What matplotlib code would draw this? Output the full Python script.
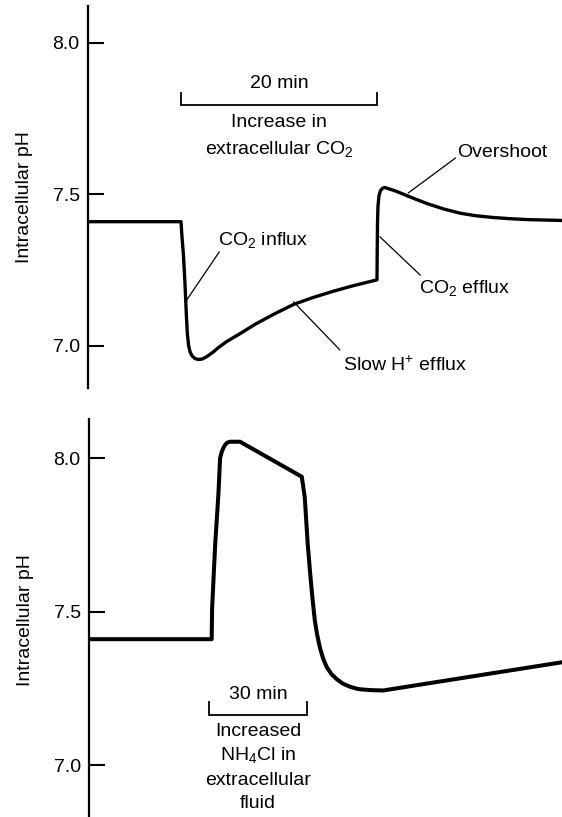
import matplotlib
matplotlib.use("Agg")
import matplotlib.pyplot as plt

plt.rcParams["font.family"] = ["Liberation Sans", "DejaVu Sans"]
plt.rcParams["mathtext.fontset"] = "custom"
plt.rcParams["mathtext.rm"] = "Liberation Sans"
plt.rcParams["mathtext.it"] = "Liberation Sans:italic"
plt.rcParams["mathtext.bf"] = "Liberation Sans:bold"

# ---- Panel A: intracellular pH during a 20 min rise in extracellular CO2 ----
co2_time = [-9.5, 0.0, 0.1, 0.25, 0.4, 0.55, 0.65, 0.78, 0.95, 1.15, 1.45,
            1.8, 2.2, 2.7, 3.3, 3.8, 4.6, 6.0, 7.6, 9.5, 11.5, 13.5, 15.5,
            17.5, 20.0,
            20.02, 20.05, 20.1, 20.2, 20.35, 20.55, 20.8, 22.0, 23.5, 25.1,
            26.8, 28.5, 30.0, 31.8, 33.5, 35.3, 38.9]
co2_ph = [7.41, 7.41, 7.36, 7.30, 7.21, 7.10, 7.04, 7.00, 6.978, 6.966, 6.958,
          6.955, 6.957, 6.966, 6.98, 6.994, 7.013, 7.04, 7.072, 7.105, 7.137, 7.16, 7.18,
          7.198, 7.218,
          7.30, 7.40, 7.46, 7.495, 7.512, 7.52, 7.523, 7.51, 7.49, 7.47,
          7.452, 7.438, 7.43, 7.424, 7.42, 7.417, 7.414]

# ---- Panel B: intracellular pH during a 30 min NH4Cl exposure ----
nh4_time = [-36.8, 0.82, 0.95, 1.9, 2.9, 3.4, 3.9, 4.4, 5.0, 5.6, 6.4, 9.5,
            28.4, 29.3, 30.2, 31.0, 31.7, 32.4, 33.1, 34.0, 35.0, 36.1, 37.5,
            39.2, 41.0, 43.2, 45.5, 47.1, 50.0, 53.3, 108.1]
nh4_ph = [7.41, 7.41, 7.51, 7.72, 7.886, 8.0, 8.02, 8.033, 8.044, 8.05, 8.053, 8.053,
          7.939, 7.873, 7.723, 7.62, 7.54, 7.47, 7.425, 7.38, 7.345, 7.318, 7.296,
          7.279, 7.265, 7.255, 7.248, 7.246, 7.244, 7.243, 7.335]

ph_ticks = [7.0, 7.5, 8.0]
ph_tick_labels = ["7.0", "7.5", "8.0"]

W, H = 562, 817
fig = plt.figure(figsize=(W / 100, H / 100), dpi=100)
fig.patch.set_facecolor("white")

ax1 = fig.add_axes([88 / W, 1 - 388 / H, (W - 88) / W, 382 / H])
ax2 = fig.add_axes([89 / W, 0.0, (W - 89) / W, 398 / H])

FS = 14


def style_axis(ax, ylim, xlim, label_y):
    ax.set_xlim(*xlim)
    ax.set_ylim(*ylim)
    for side in ("top", "right", "bottom"):
        ax.spines[side].set_visible(False)
    ax.spines["left"].set_linewidth(1.6)
    ax.set_xticks([])
    ax.set_yticks(ph_ticks)
    ax.set_yticklabels(ph_tick_labels)
    ax.tick_params(axis="y", direction="in", length=11.5, width=1.5,
                   pad=6, labelsize=FS)
    ax.set_ylabel("Intracellular pH", fontsize=FS)
    ax.yaxis.label.set_verticalalignment("center")
    ax.yaxis.set_label_coords(-0.135, label_y)
    ax.patch.set_alpha(0)


style_axis(ax1, (6.861, 8.122), (-9.49, 38.88), 0.5)
style_axis(ax2, (6.831, 8.127), (-36.73, 108.05), 0.495)

ax1.plot(co2_time, co2_ph, color="black", lw=2.4, solid_capstyle="butt",
         solid_joinstyle="round", clip_on=False)
ax2.plot(nh4_time, nh4_ph, color="black", lw=2.9, solid_capstyle="butt",
         solid_joinstyle="round", clip_on=False)


def scale_bar(ax, t0, t1, y_bar, y_tick):
    ax.plot([t0, t0, t1, t1], [y_tick, y_bar, y_bar, y_tick],
            color="black", lw=1.3, solid_joinstyle="miter")


def leader(ax, start, end):
    ax.plot([start[0], end[0]], [start[1], end[1]], color="black", lw=0.9)


# Panel A annotations
scale_bar(ax1, 0, 20, 7.795, 7.835)
ax1.text(10, 7.865, "20 min", fontsize=FS, ha="center", va="center")
ax1.text(10, 7.736, "Increase in", fontsize=FS, ha="center", va="center")
ax1.text(10, 7.65, r"extracellular CO$_\mathrm{2}$", fontsize=FS,
         ha="center", va="center")

ax1.text(8.4, 7.35, r"CO$_\mathrm{2}$ influx", fontsize=FS, ha="center", va="center")
leader(ax1, (3.9, 7.31), (0.55, 7.15))

ax1.text(22.9, 6.937, r"Slow H$^\mathrm{+}$ efflux", fontsize=FS, ha="center", va="center")
leader(ax1, (16.2, 6.987), (11.5, 7.145))

ax1.text(32.8, 7.64, "Overshoot", fontsize=FS, ha="center", va="center")
leader(ax1, (28.0, 7.62), (23.2, 7.505))

ax1.text(28.9, 7.19, r"CO$_\mathrm{2}$ efflux", fontsize=FS, ha="center", va="center")
leader(ax1, (24.4, 7.234), (20.3, 7.36))

# Panel B annotations
scale_bar(ax2, 0, 30, 7.163, 7.205)
ax2.text(15, 7.231, "30 min", fontsize=FS, ha="center", va="center")
ax2.text(15, 7.108, "Increased", fontsize=FS, ha="center", va="center")
ax2.text(15, 7.033, r"NH$_\mathrm{4}$Cl in", fontsize=FS, ha="center", va="center")
ax2.text(15, 6.951, "extracellular", fontsize=FS, ha="center", va="center")
ax2.text(15, 6.876, "fluid", fontsize=FS, ha="center", va="center")

fig.savefig("out.png", dpi=100, facecolor="white")
